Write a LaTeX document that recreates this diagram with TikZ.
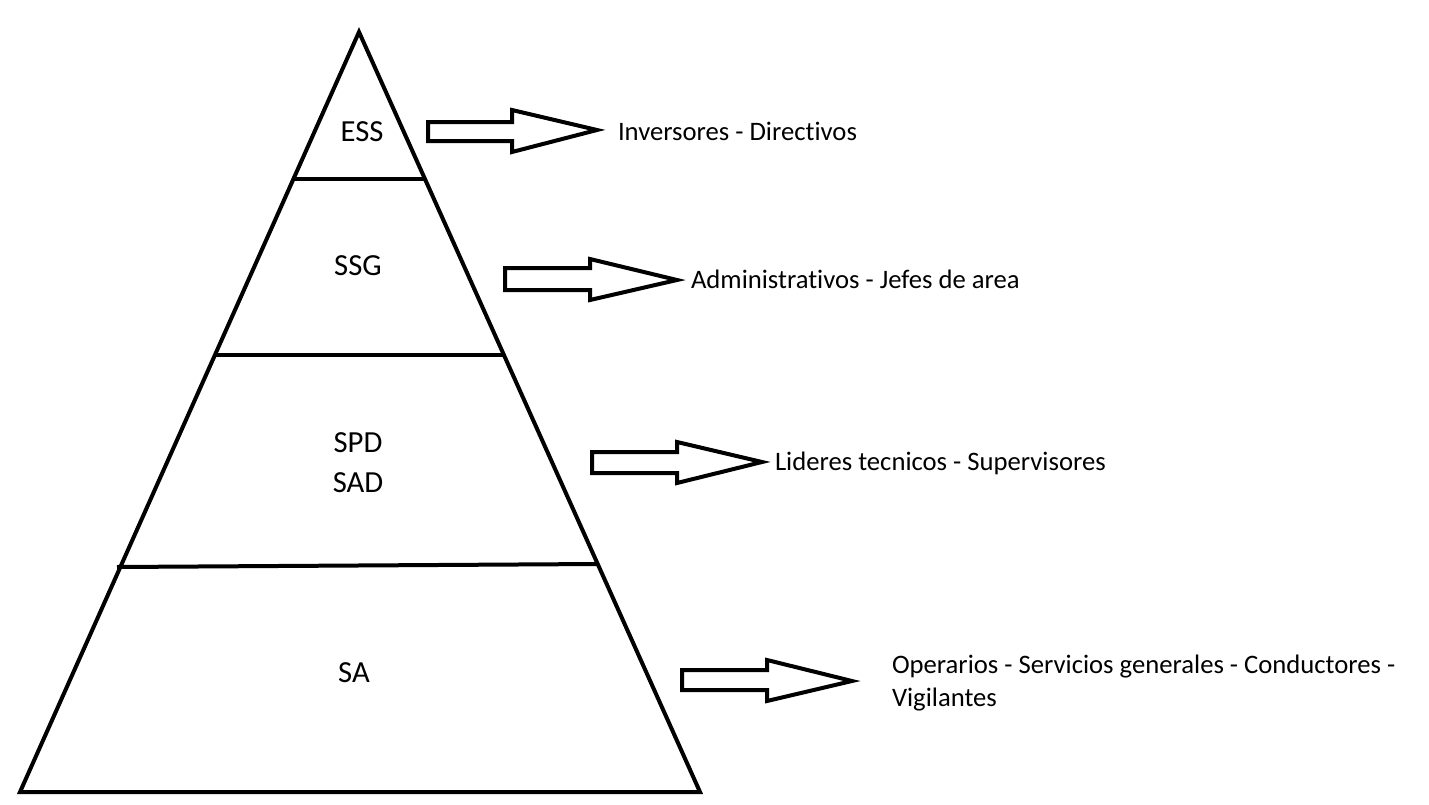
\documentclass[tikz,border=0pt]{standalone}
\usepackage{fontspec}
\setmainfont{Carlito}[Ligatures=NoCommon]
\begin{document}
\begin{tikzpicture}[x=0.75pt,y=-0.75pt,line width=3pt]
\tikzset{
  level/.style={line width=3pt},
  blockarrow/.style={draw,line width=3pt,line join=miter,fill=white},
  lvltxt/.style={inner sep=0pt,font=\fontsize{23}{30}\selectfont,align=center},
  roletxt/.style={inner sep=0pt,anchor=west,font=\fontsize{20}{24.75}\selectfont,align=left}
}
\useasboundingbox (0,0) rectangle (1429,804);
% pyramid
\coordinate (apex) at (359,32);
\coordinate (bl) at (20,792);
\coordinate (br) at (700,792);
\draw[line join=miter] (apex) -- (bl) -- (br) -- cycle;
\coordinate (l1a) at (294,179); \coordinate (l1b) at (425,179);
\coordinate (l2a) at (214,355); \coordinate (l2b) at (503,355);
\coordinate (l3a) at (117,567); \coordinate (l3b) at (597,564);
\draw[level] (l1a) -- (l1b);
\draw[level] (l2a) -- (l2b);
\draw[level] (l3a) -- (l3b);
% level labels
\node[lvltxt] (ess) at (362,132) {ESS};
\node[lvltxt] (ssg) at (358,266) {SSG};
\node[lvltxt] (spd) at (358,463) {SPD\\SAD};
\node[lvltxt] (sa) at (354,673) {SA};
% block arrows
\draw[blockarrow] (428,122) -- (512,122) -- (512,110) -- (597,130) -- (512,152) -- (512,141) -- (428,141) -- cycle;
\draw[blockarrow] (505,268) -- (590,268) -- (590,259) -- (677,280) -- (590,300) -- (590,290) -- (505,290) -- cycle;
\draw[blockarrow] (592,452) -- (677,452) -- (677,442) -- (762,462) -- (677,483) -- (677,473) -- (592,473) -- cycle;
\draw[blockarrow] (682,670) -- (767,670) -- (767,660) -- (852,681) -- (767,701) -- (767,690) -- (682,690) -- cycle;
% role labels
\node[roletxt] (r1) at (616,131) {Inversores - Directivos};
\node[roletxt] (r2) at (689,279) {Administrativos - Jefes de area};
\node[roletxt] (r3) at (773,463) {Lideres tecnicos - Supervisores};
\node[roletxt] (r4) at (890,683) {Operarios - Servicios generales - Conductores -\\Vigilantes};
\end{tikzpicture}
\end{document}
